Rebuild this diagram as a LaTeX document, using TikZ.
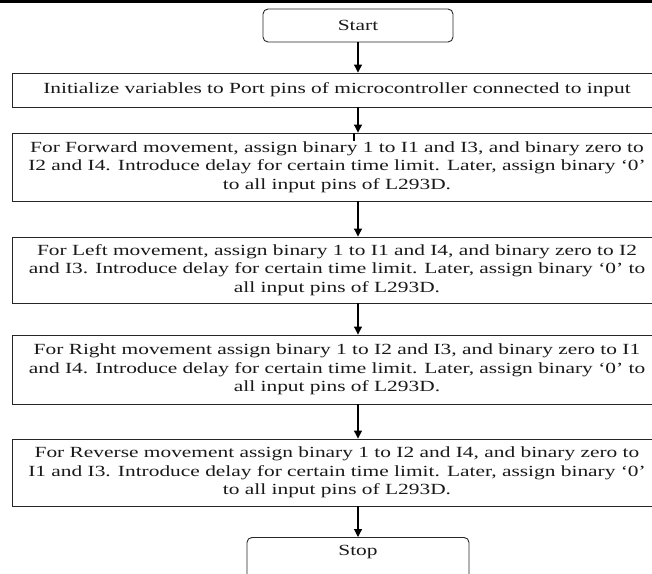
\documentclass[tikz,border=0pt]{standalone}
\usepackage{fontspec}
\setmainfont{Liberation Serif}[FakeStretch=1.38]
\usetikzlibrary{arrows.meta}
\begin{document}
\begin{tikzpicture}[x=1pt,y=-1pt,
  box/.style={draw=black!85,line width=0.9pt,inner sep=0pt,align=center,
    font=\fontsize{15.5}{18.3}\selectfont,text=black!90},
  term/.style={box,rounded corners=5pt},
  arr/.style={draw=black,line width=1.1pt,-{Triangle[length=8pt,width=8pt]}}]
\useasboundingbox (0,0) rectangle (652,573);
\fill[black] (0,0) rectangle (652,3);
\node[term,minimum width=190pt,minimum height=33pt] (start) at (358,25.5) {Start};
\node[box,minimum width=650pt,minimum height=34pt] (init) at (337,90)
  {Initialize variables to Port pins of microcontroller connected to input};
\node[box,minimum width=650pt,minimum height=68pt] (fwd) at (337,167)
  {For Forward movement, assign binary 1 to I1 and I3, and binary zero to\\
   I2 and I4. Introduce delay for certain time limit. Later, assign binary `0'\\
   to all input pins of L293D.};
\node[box,minimum width=650pt,minimum height=66pt] (left) at (337,270)
  {For Left movement, assign binary 1 to I1 and I4, and binary zero to I2\\
   and I3. Introduce delay for certain time limit. Later, assign binary `0' to\\
   all input pins of L293D.};
\node[box,minimum width=650pt,minimum height=69pt] (right) at (337,369.5)
  {For Right movement assign binary 1 to I2 and I3, and binary zero to I1\\
   and I4. Introduce delay for certain time limit. Later, assign binary `0' to\\
   all input pins of L293D.};
\node[box,minimum width=650pt,minimum height=67pt] (rev) at (337,472.5)
  {For Reverse movement assign binary 1 to I2 and I4, and binary zero to\\
   I1 and I3. Introduce delay for certain time limit. Later, assign binary `0'\\
   to all input pins of L293D.};
\node[term,minimum width=222pt,minimum height=44pt,anchor=north] (stop) at (358,537) {};
\node[font=\fontsize{15.5}{18}\selectfont,text=black!90] (stoptext) at (358,552) {Stop};
\draw[arr] (start.south) -- (start.south |- init.north);
\coordinate (a1) at (358,107);
\draw[arr] (a1) -- (a1 |- fwd.north);
\coordinate (tick) at (354,133);
\draw[line width=1.1pt] (tick) -- ++(0,8);
\coordinate (a2) at (358,201);
\draw[arr] (a2) -- (a2 |- left.north);
\coordinate (a3) at (358,303);
\draw[arr] (a3) -- (a3 |- right.north);
\coordinate (a4) at (358,404);
\draw[arr] (a4) -- (a4 |- rev.north);
\coordinate (a5) at (358,506);
\draw[arr] (a5) -- (stop.north);
\end{tikzpicture}
\end{document}
